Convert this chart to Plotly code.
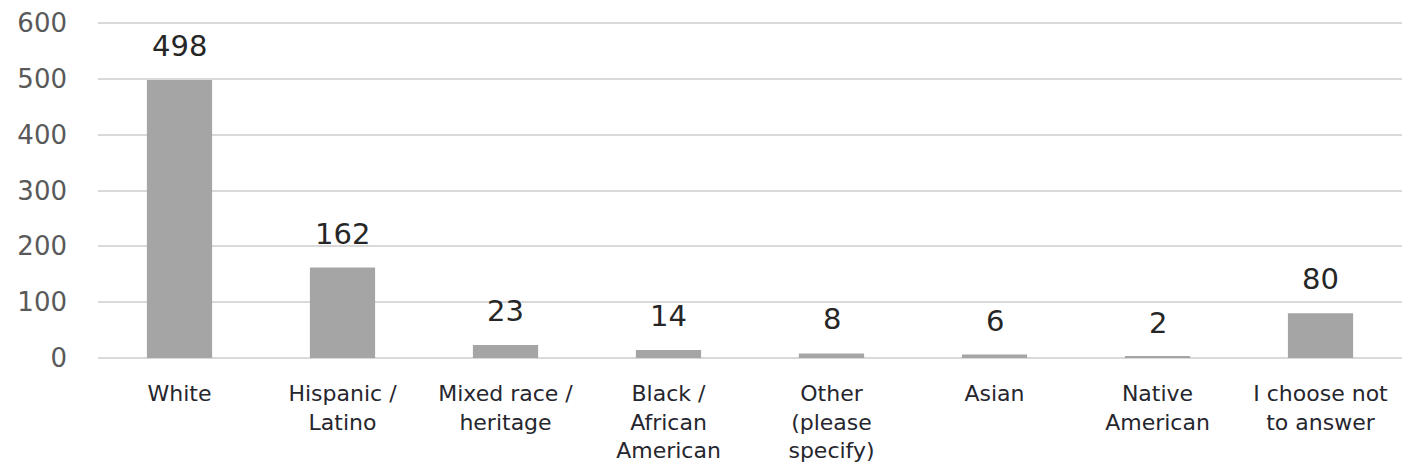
import plotly.graph_objects as go

categories = [
    "White",
    "Hispanic /<br>Latino",
    "Mixed race /<br>heritage",
    "Black /<br>African<br>American",
    "Other<br>(please<br>specify)",
    "Asian",
    "Native<br>American",
    "I choose not<br>to answer",
]
counts = [498, 162, 23, 14, 8, 6, 2, 80]
y_ticks = [0, 100, 200, 300, 400, 500, 600]

positions = list(range(len(categories)))

fig = go.Figure(
    go.Bar(
        x=positions,
        y=counts,
        width=0.4,
        marker=dict(color="#a5a5a5", line=dict(width=0)),
        hoverinfo="skip",
    )
)

# value labels floating above each bar
for xi, v in zip(positions, counts):
    fig.add_annotation(
        x=xi,
        y=v,
        xref="x",
        yref="y",
        text=str(v),
        showarrow=False,
        yanchor="bottom",
        yshift=15,
        font=dict(family="DejaVu Sans", size=29, color="#262626"),
    )

fig.update_layout(
    width=1416,
    height=474,
    margin=dict(l=98, r=14, t=21, b=115),
    paper_bgcolor="white",
    plot_bgcolor="white",
    showlegend=False,
    xaxis=dict(
        tickmode="array",
        tickvals=positions,
        ticktext=categories,
        range=[-0.5, len(categories) - 0.5],
        tickfont=dict(family="DejaVu Sans", size=22, color="#26262e"),
        showgrid=False,
        zeroline=False,
        ticks="",
        ticklabelstandoff=19,
        automargin=False,
    ),
    yaxis=dict(
        # small padding so the 0 and 600 gridlines sit inside the plot area
        range=[-2, 604],
        tickmode="array",
        tickvals=y_ticks,
        ticktext=[str(v) for v in y_ticks],
        tickfont=dict(family="DejaVu Sans", size=26, color="#595959"),
        showgrid=True,
        gridcolor="#d9d9d9",
        gridwidth=1.5,
        zeroline=False,
        ticks="",
        ticklabelstandoff=30,
        automargin=False,
    ),
)

fig.write_html("out.html")
